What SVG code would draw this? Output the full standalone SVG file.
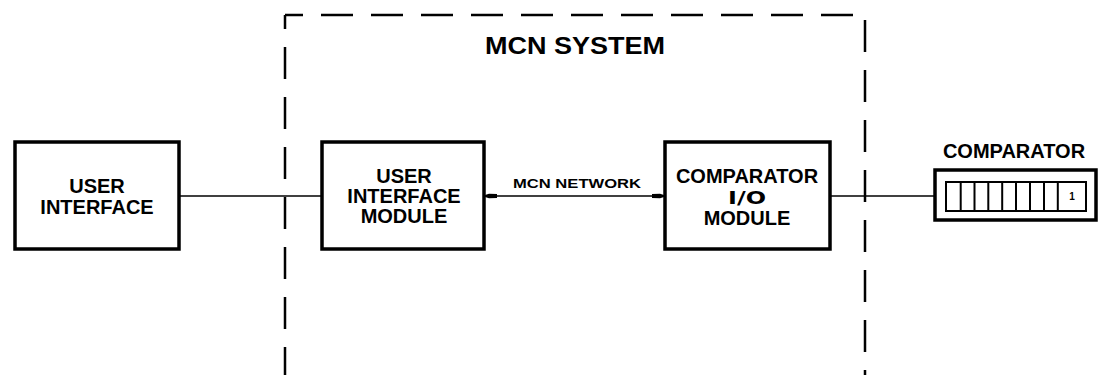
<svg xmlns="http://www.w3.org/2000/svg" width="1098" height="375" viewBox="0 0 1098 375">
<style>
.box{fill:#fff;stroke:#000;stroke-width:3.5}
.t{font-family:"Liberation Sans",Arial,sans-serif;font-weight:bold;font-size:20px;fill:#000;text-anchor:middle}
.ln{stroke:#000;stroke-width:1.5;fill:none}
.dash{stroke:#000;stroke-width:2.5;fill:none;stroke-dasharray:32 18}
</style>
<defs>
<marker id="ah" markerWidth="12" markerHeight="6" refX="12" refY="3" orient="auto-start-reverse" markerUnits="userSpaceOnUse">
<path d="M0,1 L8,0.8 L12,2 L12,4 L8,5.2 L0,5 Z" fill="#000"/>
</marker>
</defs>
<g id="system-boundary">
<line class="dash" x1="285" y1="15" x2="285" y2="375" stroke-dashoffset="18"/>
<line class="dash" x1="285" y1="15" x2="853" y2="15" stroke-dashoffset="14"/>
<line class="dash" x1="865" y1="20" x2="865" y2="375"/>
<text class="t" x="575" y="54" style="font-size:24px" textLength="180" lengthAdjust="spacingAndGlyphs">MCN SYSTEM</text>
</g>
<g id="connectors">
<line class="ln" x1="485" y1="196" x2="664" y2="196" marker-start="url(#ah)" marker-end="url(#ah)"/>
<line class="ln" x1="179" y1="196" x2="322" y2="196"/>
<line class="ln" x1="830" y1="196" x2="946" y2="196"/>
<text class="t" x="577" y="188" style="font-size:13.5px" textLength="128" lengthAdjust="spacingAndGlyphs">MCN NETWORK</text>
</g>
<g id="user-interface">
<rect class="box" x="15" y="142" width="164" height="107"/>
<text class="t" x="97" y="193">USER</text>
<text class="t" x="97" y="214">INTERFACE</text>
</g>
<g id="user-interface-module">
<rect class="box" x="322" y="142" width="162" height="107"/>
<text class="t" x="404" y="183">USER</text>
<text class="t" x="404" y="203">INTERFACE</text>
<text class="t" x="404" y="223">MODULE</text>
</g>
<g id="comparator-io-module">
<rect class="box" x="665" y="142" width="165" height="107"/>
<text class="t" x="747" y="183">COMPARATOR</text>
<text class="t" x="747" y="204" style="font-family:'DejaVu Sans',sans-serif;font-size:17px" textLength="38" lengthAdjust="spacingAndGlyphs">I/O</text>
<text class="t" x="747" y="225">MODULE</text>
</g>
<g id="comparator">
<text class="t" x="1014" y="158">COMPARATOR</text>
<rect class="box" x="935" y="170" width="161" height="50"/>
<rect x="946" y="182" width="140" height="29" fill="#fff" stroke="#000" stroke-width="2"/>
<path class="ln" style="stroke-width:2" d="M960.7,182V211M974.5,182V211M988.3,182V211M1002.2,182V211M1016,182V211M1030,182V211M1044,182V211M1057.8,182V211"/>
<text class="t" x="1072" y="200" style="font-size:10px">1</text>
</g>
</svg>
